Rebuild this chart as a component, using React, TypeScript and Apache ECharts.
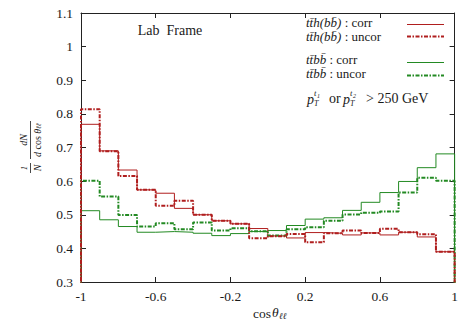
import React, { useEffect, useRef } from "react";
import * as echarts from "echarts";

const binEdges = [-1, -0.9, -0.8, -0.7, -0.6, -0.5, -0.4, -0.3, -0.2, -0.1, 0, 0.1, 0.2, 0.3, 0.4, 0.5, 0.6, 0.7, 0.8, 0.9, 1];
const tthCorr = [0.769, 0.690, 0.633, 0.574, 0.564, 0.519, 0.500, 0.482, 0.473, 0.459, 0.437, 0.431, 0.447, 0.445, 0.440, 0.446, 0.440, 0.448, 0.434, 0.390];
const tthUncor = [0.814, 0.689, 0.615, 0.574, 0.527, 0.542, 0.500, 0.482, 0.473, 0.430, 0.436, 0.443, 0.418, 0.445, 0.453, 0.446, 0.458, 0.448, 0.442, 0.390];
const ttbbCorr = [0.512, 0.485, 0.465, 0.448, 0.450, 0.448, 0.445, 0.438, 0.444, 0.450, 0.453, 0.468, 0.487, 0.491, 0.513, 0.537, 0.566, 0.599, 0.640, 0.681];
const ttbbUncor = [0.601, 0.554, 0.499, 0.465, 0.475, 0.457, 0.477, 0.453, 0.460, 0.451, 0.438, 0.457, 0.463, 0.482, 0.501, 0.506, 0.510, 0.566, 0.610, 0.601];
const xTickValues = [-1, -0.6, -0.2, 0.2, 0.6, 1];
const seriesNames = ["tt̄h(bb̄) : corr", "tt̄h(bb̄) : uncor", "tt̄bb̄ : corr", "tt̄bb̄ : uncor"];

const RED = "#b01e1e";
const GREEN = "#238a23";
const TXT = "#1a1a1a";
const FONT = "Liberation Serif";

function histData(values: number[]) {
  const d: number[][] = [[binEdges[0], 0]];
  values.forEach((v, i) => d.push([binEdges[i], v]));
  d.push([binEdges[binEdges.length - 1], values[values.length - 1]]);
  d.push([binEdges[binEdges.length - 1], 0]);
  return d;
}

const solid = (c: string) => ({ color: c, width: 1, type: "solid" as const });
const DASH = [4, 1.5, 1.5, 1.5];
const dotted = (c: string) => ({ color: c, width: 2, type: DASH as any });

function txt(x: number, y: number, text: string, size: number, italic = false, align = "left") {
  return {
    type: "text",
    x,
    y,
    style: {
      text,
      fontSize: size,
      fontFamily: FONT,
      fontStyle: italic ? "italic" : "normal",
      fill: TXT,
      align,
      verticalAlign: "middle",
      lineHeight: Math.round(size * 0.9),
    },
  };
}

function legendLabel(x: number, y: number, math: string, rest: string) {
  return {
    type: "text",
    x,
    y,
    style: {
      text: `{m|${math}}{r|${rest}}`,
      fill: TXT,
      verticalAlign: "middle",
      rich: {
        m: { fontSize: 13, fontFamily: FONT, fontStyle: "italic", fill: TXT, lineHeight: 12 },
        r: { fontSize: 13, fontFamily: FONT, fill: TXT, lineHeight: 12 },
      },
    },
  };
}

export default function App() {
  const ref = useRef<HTMLDivElement>(null);
  useEffect(() => {
    if (!ref.current) return;
    const chart = echarts.init(ref.current, null, { renderer: "svg" });
    const axisLine = { show: true, onZero: false, lineStyle: { color: "#222", width: 1 } };
    const option: any = {
      animation: false,
      backgroundColor: "#fff",
      grid: { left: 81, right: 2, top: 13, bottom: 42 },
      xAxis: [
        {
          type: "value",
          min: -1,
          max: 1,
          position: "bottom",
          axisLine,
          axisTick: { show: true, inside: true, length: 5, customValues: xTickValues, lineStyle: { color: "#222" } },
          axisLabel: {
            customValues: xTickValues,
            formatter: (v: number) => String(parseFloat(v.toFixed(1))),
            color: TXT,
            fontFamily: FONT,
            fontSize: 13.5,
            margin: 7,
          },
          splitLine: { show: false },
        },
        {
          type: "value",
          min: -1,
          max: 1,
          position: "top",
          axisLine,
          axisTick: { show: true, inside: true, length: 5, customValues: xTickValues, lineStyle: { color: "#222" } },
          axisLabel: { show: false },
          splitLine: { show: false },
        },
      ],
      yAxis: [
        {
          type: "value",
          min: 0.3,
          max: 1.1,
          interval: 0.1,
          position: "left",
          axisLine,
          axisTick: { show: true, inside: true, length: 5, lineStyle: { color: "#222" } },
          axisLabel: {
            formatter: (v: number) => String(parseFloat(v.toFixed(1))),
            color: TXT,
            fontFamily: FONT,
            fontSize: 13.5,
            margin: 8,
          },
          splitLine: { show: false },
        },
        {
          type: "value",
          min: 0.3,
          max: 1.1,
          interval: 0.1,
          position: "right",
          axisLine,
          axisTick: { show: true, inside: true, length: 5, lineStyle: { color: "#222" } },
          axisLabel: { show: false },
          splitLine: { show: false },
        },
      ],
      series: [
        { name: seriesNames[2], type: "line", step: "end", symbol: "none", clip: true, data: histData(ttbbCorr), lineStyle: solid(GREEN), z: 2 },
        { name: seriesNames[0], type: "line", step: "end", symbol: "none", clip: true, data: histData(tthCorr), lineStyle: solid(RED), z: 2 },
        { name: seriesNames[3], type: "line", step: "end", symbol: "none", clip: true, data: histData(ttbbUncor), lineStyle: dotted(GREEN), z: 3 },
        { name: seriesNames[1], type: "line", step: "end", symbol: "none", clip: true, data: histData(tthUncor), lineStyle: dotted(RED), z: 3 },
      ],
      graphic: [
        txt(170, 30, "Lab  Frame", 14, false, "center"),
        legendLabel(306, 22.5, "tt̄h(bb̄)", " : corr"),
        legendLabel(306, 36.5, "tt̄h(bb̄)", " : uncor"),
        legendLabel(306, 59, "tt̄bb̄", " : corr"),
        legendLabel(306, 73, "tt̄bb̄", " : uncor"),
        { type: "line", shape: { x1: 407, y1: 24.5, x2: 444, y2: 24.5 }, style: { stroke: RED, lineWidth: 1 } },
        { type: "line", shape: { x1: 407, y1: 36.5, x2: 444, y2: 36.5 }, style: { stroke: RED, lineWidth: 2, lineDash: DASH } },
        { type: "line", shape: { x1: 407, y1: 62.5, x2: 444, y2: 62.5 }, style: { stroke: GREEN, lineWidth: 1 } },
        { type: "line", shape: { x1: 407, y1: 75.5, x2: 444, y2: 75.5 }, style: { stroke: GREEN, lineWidth: 2, lineDash: DASH } },
        // pT line
        txt(307, 99, "p", 14, true),
        txt(314, 93, "t", 8.5, true),
        txt(317, 95.5, "1", 6, true),
        txt(314, 103, "T", 8, true),
        txt(329, 98, "or", 14),
        txt(343, 99, "p", 14, true),
        txt(350, 93, "t", 8.5, true),
        txt(353, 95.5, "2", 6, true),
        txt(350, 103, "T", 8, true),
        txt(366, 98, "> 250 GeV", 14),
        // x axis name
        txt(253, 313, "cos", 13.5),
        txt(272, 312, "θ", 13.5, true),
        txt(279, 316, "ℓℓ", 9, true),
        // y axis name, rotated
        {
          type: "group",
          x: 30,
          y: 147,
          rotation: Math.PI / 2,
          children: [
            txt(-21, -6, "1", 9, true, "center"),
            txt(-21, 7, "N", 10, true, "center"),
            { type: "line", shape: { x1: -26, y1: 0.5, x2: -16, y2: 0.5 }, style: { stroke: TXT, lineWidth: 0.8 } },
            txt(7, -7, "dN", 10, true, "center"),
            { type: "line", shape: { x1: -12, y1: 0.5, x2: 26, y2: 0.5 }, style: { stroke: TXT, lineWidth: 0.8 } },
            {
              type: "text",
              x: 7,
              y: 7,
              style: {
                text: "{i|d}{r| cos }{i|θ}{s|ℓℓ}",
                align: "center",
                verticalAlign: "middle",
                rich: {
                  i: { fontSize: 10, fontStyle: "italic", fontFamily: FONT, fill: TXT },
                  r: { fontSize: 10, fontFamily: FONT, fill: TXT },
                  s: { fontSize: 7, fontStyle: "italic", fontFamily: FONT, fill: TXT, padding: [4, 0, 0, 0] },
                },
              },
            },
          ],
        },
      ],
    };
    chart.setOption(option);
    return () => chart.dispose();
  }, []);
  return <div ref={ref} style={{ width: 461, height: 324, position: "absolute", left: 0, top: 0 }} />;
}
